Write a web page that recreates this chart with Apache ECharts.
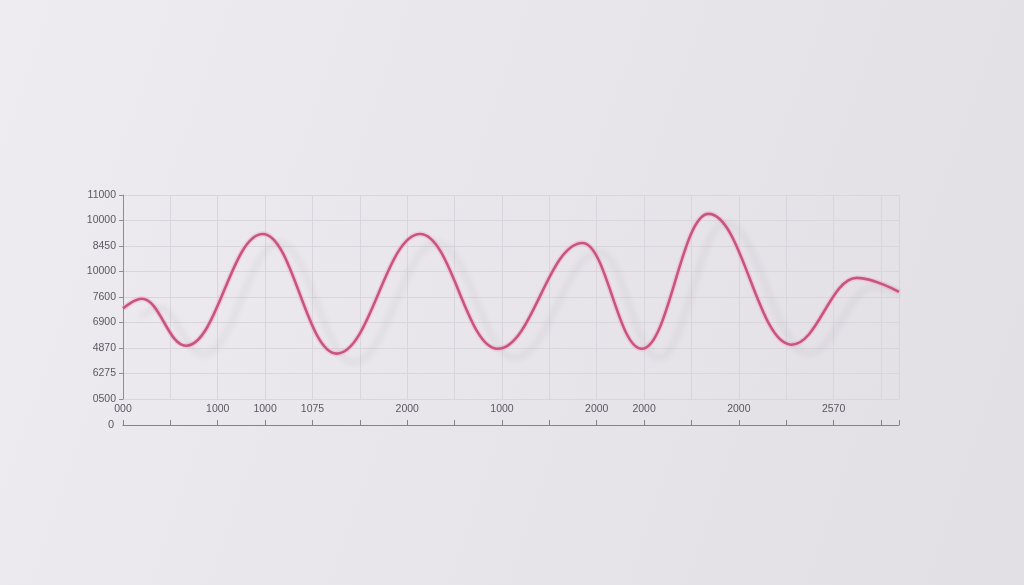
<!DOCTYPE html>
<html>
<head>
<meta charset="utf-8">
<script src="https://cdn.jsdelivr.net/npm/echarts@6/dist/echarts.min.js"></script>
<style>
html,body{margin:0;padding:0;width:1024px;height:585px;overflow:hidden;}
#c{width:1024px;height:585px;}
</style>
</head>
<body>
<div id="c"></div>
<script>
// Turning points of the line (x in tick steps, y in gridline steps)
const xValues = [0, 0.40, 1.33, 2.95, 4.51, 6.27, 7.91, 9.70, 10.95, 12.36, 14.11, 15.49, 16.38];
const yValues = [4.55, 4.93, 3.09, 7.47, 2.78, 7.47, 2.97, 7.12, 2.97, 8.26, 3.13, 5.75, 5.20];
// Tick labels as printed
const xTickLabels = ['000', '', '1000', '1000', '1075', '', '2000', '', '1000', '', '2000', '2000', '', '2000', '', '2570', ''];
const yTickLabels = ['0', '0500', '6275', '4870', '6900', '7600', '10000', '8450', '10000', '11000'];
const xMax = 16.38;

const points = xValues.map((x, i) => [x, yValues[i]]);
const labelFont = { color: '#5a5860', fontSize: 10.5, fontFamily: 'Liberation Sans, Arial, sans-serif' };

const chart = echarts.init(document.getElementById('c'), null, { renderer: 'canvas' });
chart.setOption({
  animation: false,
  backgroundColor: {
    type: 'linear', x: 0, y: 0, x2: 1, y2: 0.6,
    colorStops: [
      { offset: 0, color: '#eeecf0' },
      { offset: 0.5, color: '#e9e6eb' },
      { offset: 1, color: '#e2dfe5' }
    ]
  },
  grid: [
    { left: 123, right: 125, top: 195, height: 204 },
    { left: 123, right: 125, top: 399, height: 26 }
  ],
  xAxis: [
    {
      gridIndex: 0, type: 'value', min: 0, max: xMax, interval: 1,
      axisLine: { show: false }, axisTick: { show: false }, axisLabel: { show: false },
      splitLine: { show: true, lineStyle: { color: '#d9d5dd', width: 1 } }
    },
    {
      gridIndex: 1, type: 'value', min: 0, max: xMax, interval: 1,
      axisLine: { show: true, lineStyle: { color: '#85838a', width: 1.2 } },
      axisTick: { show: true, inside: true, length: 5, lineStyle: { color: '#85838a' } },
      axisLabel: {
        show: true, inside: true, margin: 10, ...labelFont,
        formatter: v => (Math.abs(v - Math.round(v)) < 1e-6 ? (xTickLabels[Math.round(v)] || '') : '')
      },
      splitLine: { show: false }
    }
  ],
  yAxis: [
    {
      gridIndex: 0, type: 'value', min: 1, max: 9, interval: 1,
      axisLine: { show: true, lineStyle: { color: '#8f8d94', width: 1 } },
      axisTick: { show: true, length: 4, lineStyle: { color: '#8f8d94' } },
      axisLabel: { margin: 7, ...labelFont, formatter: v => yTickLabels[Math.round(v)] || '' },
      splitLine: { show: true, lineStyle: { color: '#d9d5dd', width: 1 } }
    },
    {
      gridIndex: 1, type: 'value', min: 0, max: 1, interval: 1,
      axisLine: { show: false }, axisTick: { show: false },
      axisLabel: { margin: 9, ...labelFont, fontSize: 11, formatter: v => (v === 0 ? yTickLabels[0] : '') },
      splitLine: { show: false }
    }
  ],
  series: [
    {
      type: 'line', xAxisIndex: 0, yAxisIndex: 0, data: points,
      smooth: 0.4, smoothMonotone: 'x',
      symbol: 'none', silent: true, z: 2,
      lineStyle: { color: 'rgba(240,175,200,0.45)', width: 5.5 }
    },
    {
      type: 'line', xAxisIndex: 0, yAxisIndex: 0, data: points,
      smooth: 0.4, smoothMonotone: 'x',
      symbol: 'none', z: 3,
      lineStyle: {
        color: '#c9557f', width: 2.6,
        shadowColor: 'rgba(70,60,80,0.13)', shadowBlur: 6, shadowOffsetX: 17, shadowOffsetY: 9
      }
    }
  ]
});
</script>
</body>
</html>
